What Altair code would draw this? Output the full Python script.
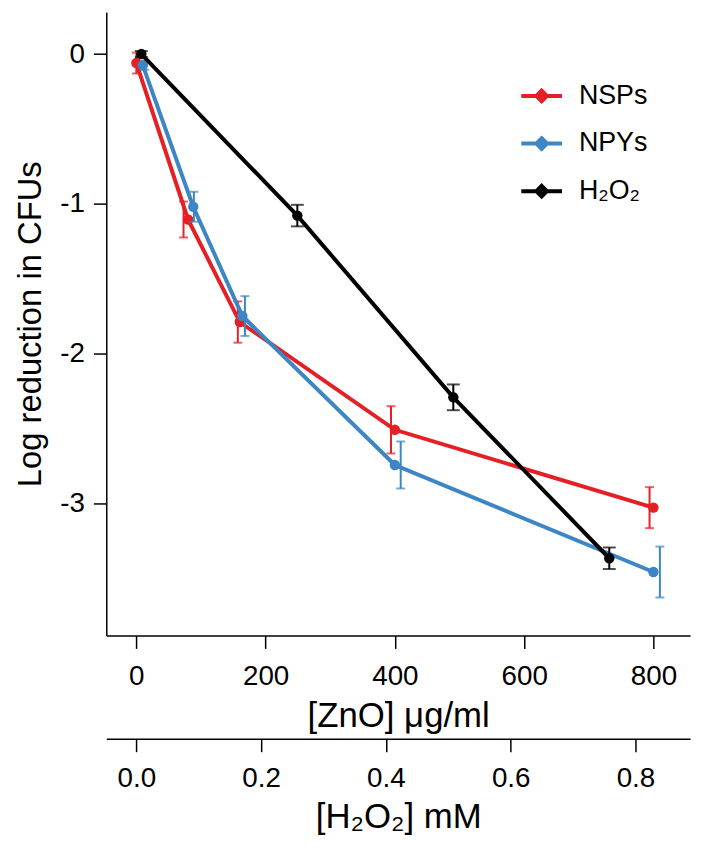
import altair as alt
import pandas as pd

# ---- data ----
series_names = ["NSPs", "NPYs", "H₂O₂"]
series_colors = ["#E41F26", "#3C86C6", "#000000"]

# ZnO nanoparticles (x: µg/ml)
nsp_conc = [0, 80, 160, 400, 800]
nsp_log = [-0.06, -1.105, -1.79, -2.51, -3.03]
nsp_err = [0.07, 0.12, 0.138, 0.158, 0.137]
nsp_err_x = [0, 73, 157, 394, 794]

npy_conc = [10, 88, 164, 400, 800]
npy_log = [-0.075, -1.02, -1.75, -2.745, -3.46]
npy_err = [0.03, 0.1, 0.133, 0.157, 0.17]
npy_err_x = [13, 89, 168, 409, 810]

# H2O2 (x: mM)
h2o2_conc = [0.008, 0.258, 0.508, 0.758]
h2o2_log = [0.0, -1.079, -2.293, -3.368]
h2o2_err = [0.02, 0.072, 0.086, 0.072]

zno_ticks = [0, 200, 400, 600, 800]
mm_ticks = [0.0, 0.2, 0.4, 0.6, 0.8]
y_ticks = [-3, -2, -1, 0]


def frame(name, conc, log, err, err_x):
    return pd.DataFrame({
        "series": name,
        "conc": conc,
        "log": log,
        "err_x": err_x,
        "lo": [v - e for v, e in zip(log, err)],
        "hi": [v + e for v, e in zip(log, err)],
    })


nsp_df = frame("NSPs", nsp_conc, nsp_log, nsp_err, nsp_err_x)
npy_df = frame("NPYs", npy_conc, npy_log, npy_err, npy_err_x)
h2o2_df = frame("H₂O₂", h2o2_conc, h2o2_log, h2o2_err, h2o2_conc)

legend_path = "M-1,0L1,0M0,-0.26L0.26,0L0,0.26L-0.26,0Z"
legend = alt.Legend(
    title=None, orient="none", legendX=416, legendY=62,
    symbolType=legend_path, symbolSize=1681, symbolStrokeWidth=4,
    labelFont="Liberation Sans", labelFontSize=27, labelColor="black",
    labelOffset=15, rowPadding=12, symbolOpacity=1,
)
color = alt.Color("series:N",
                  scale=alt.Scale(domain=series_names, range=series_colors),
                  legend=legend)

y_scale = alt.Scale(domain=[-3.884, 0.281], nice=False, zero=False)
y_axis = alt.Axis(values=y_ticks, labelExpr="toString(datum.value)",
                  title="Log reduction in CFUs", labelPadding=9, titlePadding=12,
                  titleFontSize=33)

zno_scale = alt.Scale(domain=[-46.5, 856.7], nice=False, zero=False)
zno_axis = alt.Axis(values=zno_ticks, title="[ZnO] μg/ml", orient="bottom",
                    labelPadding=14, titlePadding=9)
mm_scale = alt.Scale(domain=[-0.0482, 0.8875], nice=False, zero=False)
mm_axis = alt.Axis(values=mm_ticks, format=".1f", title="[H₂O₂] mM",
                   orient="bottom", offset=104, labelPadding=13, titlePadding=7)


def series_layers(df, xscale, xaxis, cap):
    base = alt.Chart(df)
    x = alt.X("conc:Q", scale=xscale, axis=xaxis)
    y = alt.Y("log:Q", scale=y_scale, axis=y_axis)
    line = base.mark_line(strokeWidth=4).encode(x=x, y=y, color=color)
    err = base.mark_errorbar(ticks={"size": cap}, thickness=2).encode(
        x=alt.X("err_x:Q", scale=xscale, axis=xaxis),
        y=alt.Y("lo:Q", scale=y_scale, axis=y_axis),
        y2="hi:Q",
        color=color,
    )
    pts = base.mark_point(filled=True, size=110, opacity=1, shape="circle").encode(
        x=x, y=y, color=color)
    return [line, err, pts]


zno_layer = alt.layer(
    *series_layers(nsp_df, zno_scale, zno_axis, 9),
    *series_layers(npy_df, zno_scale, zno_axis, 9),
)
h2o2_layer = alt.layer(*series_layers(h2o2_df, mm_scale, mm_axis, 13))

chart = alt.layer(zno_layer, h2o2_layer).resolve_scale(x="independent").properties(
    width=588, height=628,
    autosize=alt.AutoSizeParams(type="none"),
    padding={"left": 99, "top": 1, "right": 10, "bottom": 210},
).configure_view(stroke=None).configure_axis(
    grid=False, domainColor="black", tickColor="black", labelColor="black",
    titleColor="black", labelFont="Liberation Sans", titleFont="Liberation Sans",
    labelFontSize=28, titleFontSize=35, titleFontWeight="normal",
    domainWidth=1.5, tickWidth=1.5, tickSize=13,
)

chart.save("out.html", embed_options={"renderer": "svg", "actions": False})
